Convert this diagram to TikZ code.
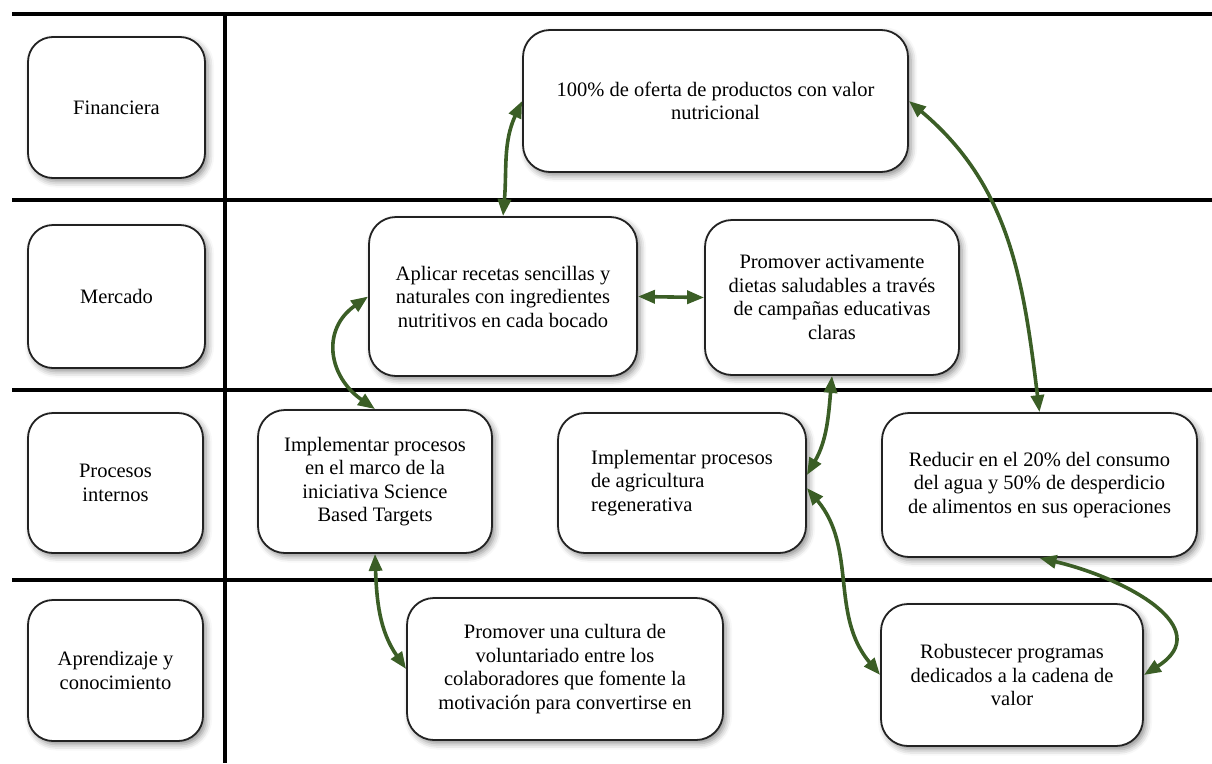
\documentclass[tikz,border=0pt]{standalone}
\usepackage{fontspec}
\setmainfont{Liberation Serif}
\usetikzlibrary{arrows.meta,shadows.blur}
\definecolor{arrowgreen}{HTML}{3B5E26}
\definecolor{boxline}{HTML}{222222}
\newcommand\diagfont{\fontsize{20.5}{23.5}\selectfont}
\tikzset{
  softshadow/.style={blur shadow={shadow xshift=3pt, shadow yshift=-3.5pt, shadow blur radius=6pt, shadow opacity=45}},
  catbox/.style={draw=boxline, line width=1.8pt, rounded corners=25pt, fill=white, align=center, inner sep=0pt, softshadow, font=\diagfont},
  goalbox/.style={draw=boxline, line width=1.8pt, rounded corners=27pt, fill=white, align=center, inner sep=0pt, softshadow, font=\diagfont},
  link/.style={draw=arrowgreen, line width=3.6pt, {Triangle[length=17pt,width=13pt]}-{Triangle[length=17pt,width=13pt]}},
  sepline/.style={line width=3.8pt, black}
}
\begin{document}
\begin{tikzpicture}[x=1pt,y=-1pt]
\useasboundingbox (0,0) rectangle (1212,763);
% grid lines
\coordinate (h0a) at (12,14);   \coordinate (h0b) at (1212,14);
\coordinate (h1a) at (12,200);  \coordinate (h1b) at (1212,200);
\coordinate (h2a) at (12,390);  \coordinate (h2b) at (1212,390);
\coordinate (h3a) at (12,580);  \coordinate (h3b) at (1212,580);
\coordinate (va) at (225,14);   \coordinate (vb) at (225,763);
\draw[sepline] (h0a) -- (h0b);
\draw[sepline] (h1a) -- (h1b);
\draw[sepline] (h2a) -- (h2b);
\draw[sepline] (h3a) -- (h3b);
\draw[sepline] (va) -- (vb);
% category boxes
\node[catbox, minimum width=177pt, minimum height=141pt] (L1) at (116.5,107.5) {Financiera};
\node[catbox, minimum width=177pt, minimum height=143pt] (L2) at (116.5,296.5) {Mercado};
\node[catbox, minimum width=175pt, minimum height=140pt] (L3) at (115.5,483) {Procesos\\internos};
\node[catbox, minimum width=175pt, minimum height=141pt] (L4) at (115.5,670.5) {Aprendizaje y\\conocimiento};
% goal boxes
\node[goalbox, minimum width=385pt, minimum height=142pt] (C1) at (715.5,101) {100\% de oferta de productos con valor\\nutricional};
\node[goalbox, minimum width=268pt, minimum height=159pt] (C2) at (503,296.5) {Aplicar recetas sencillas y\\naturales con ingredientes\\nutritivos en cada bocado};
\node[goalbox, minimum width=254pt, minimum height=155pt] (C3) at (832,297.5) {Promover activamente\\dietas saludables a través\\de campañas educativas\\claras};
\node[goalbox, minimum width=234pt, minimum height=143pt] (C4) at (375,481.5) {Implementar procesos\\en el marco de la\\iniciativa Science\\Based Targets};
\node[goalbox, minimum width=248pt, minimum height=140pt, align=left] (C5) at (682,483) {Implementar procesos\\de agricultura\\regenerativa};
\node[goalbox, minimum width=315pt, minimum height=144pt] (C6) at (1039.5,485) {Reducir en el 20\% del consumo\\del agua y 50\% de desperdicio\\de alimentos en sus operaciones};
\node[goalbox, minimum width=316pt, minimum height=142pt] (C7) at (565,669) {Promover una cultura de\\voluntariado entre los\\colaboradores que fomente la\\motivación para convertirse en};
\node[goalbox, minimum width=262pt, minimum height=142pt] (C8) at (1012,675) {Robustecer programas\\dedicados a la cadena de\\valor};
% connectors
\draw[link] (C2.north) to[out=85,in=245] (C1.west);
\draw[link] (C1.east) to[out=-40,in=97] (C6.north);
\draw[link] (C2.east) -- (C3.west);
\draw[link] (C2.west) to[out=215,in=145,looseness=1.3] (C4.north);
\draw[link] (C3.south) to[out=-95,in=60] ([yshift=8pt]C5.east);
\draw[link] (C4.south) to[out=-88,in=125] (C7.west);
\draw[link] ([yshift=-5pt]C5.east) to[out=-50,in=130] (C8.west);
\draw[link] (C6.south) .. controls (1125,578) and (1218,628) .. (C8.east);
\end{tikzpicture}
\end{document}
